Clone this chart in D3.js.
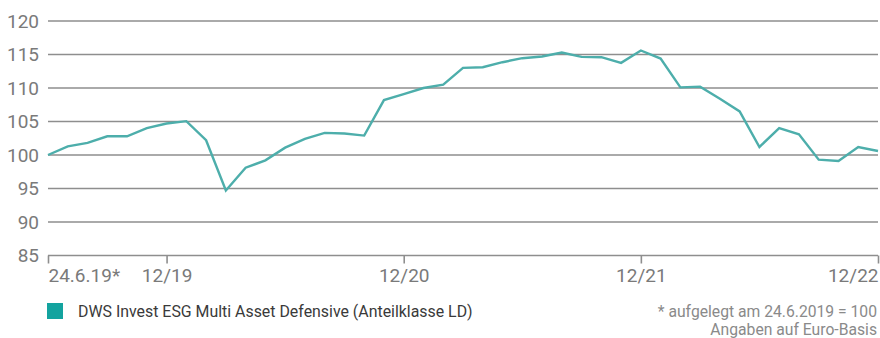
<!DOCTYPE html>
<html>
<head>
<meta charset="utf-8">
<script src="https://cdn.jsdelivr.net/npm/d3@7"></script>
<style>
  body { margin: 0; background: #fff; }
  svg { display: block; font-family: Roboto, "Noto Sans", sans-serif; }
</style>
</head>
<body>
<svg id="chart" width="880" height="338"></svg>
<script>
// months from launch (24.6.2019) to 12/2022
let months = []
for (let yr = 2019; yr <= 2022; yr++) {
  for (let m = 1; m <= 12; m++) {
    if (yr === 2019 && m < 6) continue
    months.push(yr + '-' + String(m).padStart(2, '0'))
  }
}

let values = [
  100.0, 101.3, 101.8, 102.8, 102.8, 104.0, 104.7,
  105.05, 102.2, 94.7, 98.1, 99.2, 101.1, 102.4, 103.3, 103.2, 102.9, 108.2, 109.1,
  110.0, 110.5, 113.0, 113.1, 113.85, 114.45, 114.7, 115.3, 114.65, 114.6, 113.75, 115.6,
  114.4, 110.1, 110.2, 108.4, 106.5, 101.2, 104.0, 103.1, 99.3, 99.1, 101.2, 100.6
]

let yTicks = [85, 90, 95, 100, 105, 110, 115, 120]
let xTicks = ['2019-06', '2019-12', '2020-12', '2021-12', '2022-12']
let xTickLabels = ['24.6.19*', '12/19', '12/20', '12/21', '12/22']

let seriesName = 'DWS Invest ESG Multi Asset Defensive (Anteilklasse LD)'
let notes = ['* aufgelegt am 24.6.2019 = 100', 'Angaben auf Euro-Basis']

let svg = d3.select('#chart')
let plotLeft = 48, plotRight = 878, plotTop = 21, plotBottom = 255.5

let x = d3.scalePoint().domain(months).range([plotLeft, plotRight])
let y = d3.scaleLinear().domain([85, 120]).range([plotBottom, plotTop])

// grid lines
svg.append('g')
  .selectAll('line')
  .data(yTicks.slice(1))
  .enter()
  .append('line')
  .attr('x1', plotLeft)
  .attr('x2', plotRight)
  .attr('y1', d => y(d))
  .attr('y2', d => y(d))
  .attr('stroke', '#8e8e8e')
  .attr('stroke-width', 1.6)

// y labels
svg.append('g')
  .selectAll('text')
  .data(yTicks)
  .enter()
  .append('text')
  .attr('x', 39)
  .attr('y', d => y(d))
  .attr('dy', '0.35em')
  .attr('text-anchor', 'end')
  .attr('fill', '#7a7a7a')
  .attr('font-size', 19)
  .text(d => d)

// x axis
let xAxis = d3.axisBottom(x)
  .tickValues(xTicks)
  .tickSize(8)
  .tickPadding(5)
  .tickFormat((d, i) => xTickLabels[i])

let gx = svg.append('g')
  .attr('transform', 'translate(0,' + plotBottom + ')')
  .call(xAxis)

gx.select('.domain').attr('stroke', '#8e8e8e').attr('stroke-width', 1.6)
  .attr('d', 'M' + plotLeft + ',0H' + plotRight)
gx.selectAll('.tick line').attr('stroke', '#8e8e8e').attr('stroke-width', 1.6)
gx.selectAll('.tick text')
  .attr('fill', '#7a7a7a')
  .attr('font-size', 19)
  .attr('font-family', 'Roboto, "Noto Sans", sans-serif')
  .attr('text-anchor', (d, i) => i === 0 ? 'start' : (i === xTicks.length - 1 ? 'end' : 'middle'))

// line
let line = d3.line()
  .x((d, i) => x(months[i]))
  .y(d => y(d))

svg.append('path')
  .datum(values)
  .attr('d', line)
  .attr('fill', 'none')
  .attr('stroke', '#4daeab')
  .attr('stroke-width', 2.4)
  .attr('stroke-linejoin', 'miter')

// legend
svg.append('rect')
  .attr('x', 47)
  .attr('y', 303)
  .attr('width', 16)
  .attr('height', 16)
  .attr('fill', '#13a39f')

svg.append('text')
  .attr('x', 78)
  .attr('y', 317)
  .attr('fill', '#3a3a3a')
  .attr('font-size', 15.9)
  .text(seriesName)

// footnotes
svg.append('g')
  .selectAll('text')
  .data(notes)
  .enter()
  .append('text')
  .attr('x', 877)
  .attr('y', (d, i) => 317 + i * 18)
  .attr('text-anchor', 'end')
  .attr('fill', '#8a8a8a')
  .attr('font-size', 15.7)
  .text(d => d)
</script>
</body>
</html>
